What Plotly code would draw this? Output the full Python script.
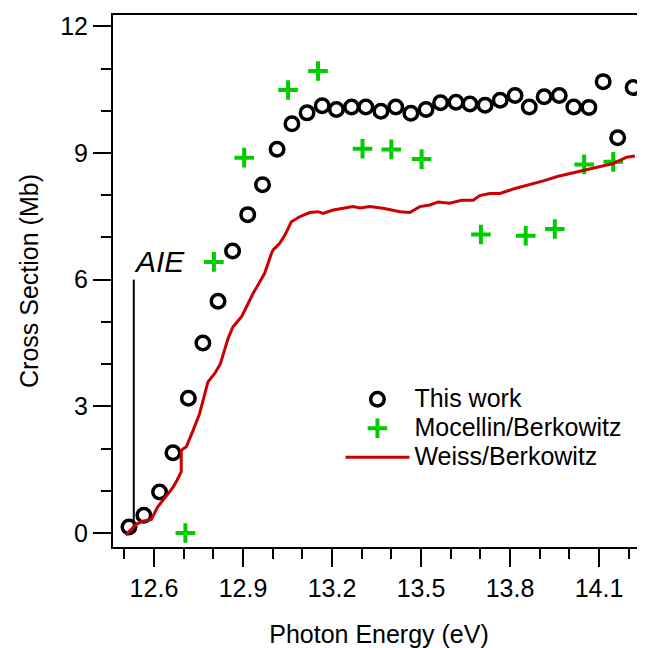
import plotly.graph_objects as go

# ---- data ----
this_work_energy = [12.516, 12.566, 12.619, 12.664, 12.716, 12.765, 12.816, 12.865, 12.916, 12.966,
                    13.015, 13.065, 13.116, 13.167, 13.215, 13.266, 13.314, 13.365, 13.415, 13.466,
                    13.517, 13.566, 13.618, 13.665, 13.716, 13.767, 13.817, 13.865, 13.915, 13.966,
                    14.015, 14.066, 14.114, 14.163, 14.215]
this_work_xs = [0.14, 0.42, 0.97, 1.90, 3.19, 4.50, 5.49, 6.68, 7.54, 8.25,
                9.09, 9.69, 9.95, 10.12, 10.03, 10.09, 10.09, 9.99, 10.09, 9.94,
                10.03, 10.19, 10.20, 10.16, 10.13, 10.25, 10.36, 10.09, 10.33, 10.36,
                10.09, 10.08, 10.69, 9.36, 10.55]

mocellin_energy = [12.706, 12.802, 12.904, 13.052, 13.153, 13.303, 13.400, 13.502,
                   13.702, 13.853, 13.951, 14.050, 14.148]
mocellin_xs = [0.0, 6.42, 8.89, 10.49, 10.94, 9.10, 9.085, 8.855,
               7.07, 7.04, 7.20, 8.73, 8.79]

weiss_energy = [12.505, 12.541, 12.563, 12.591, 12.613, 12.642, 12.664, 12.678, 12.692, 12.692,
                12.709, 12.732, 12.754, 12.782, 12.805, 12.824, 12.850, 12.866, 12.895, 12.934,
                12.973, 12.996, 13.001, 13.024, 13.041, 13.052, 13.063, 13.091, 13.125, 13.153,
                13.170, 13.204, 13.271, 13.294, 13.327, 13.372, 13.418, 13.429, 13.462, 13.496,
                13.530, 13.558, 13.597, 13.637, 13.676, 13.698, 13.732, 13.766, 13.817, 13.861,
                13.912, 13.963, 14.013, 14.058, 14.103, 14.148, 14.193, 14.221]
weiss_xs = [-0.05, 0.21, 0.28, 0.32, 0.62, 0.89, 1.08, 1.25, 1.45, 1.96,
            2.04, 2.43, 2.83, 3.58, 3.78, 4.01, 4.61, 4.88, 5.12, 5.67,
            6.15, 6.62, 6.70, 6.86, 7.05, 7.21, 7.37, 7.49, 7.59, 7.61,
            7.57, 7.65, 7.73, 7.70, 7.73, 7.69, 7.63, 7.61, 7.59, 7.73,
            7.77, 7.84, 7.81, 7.88, 7.88, 7.99, 8.04, 8.04, 8.16, 8.24,
            8.34, 8.45, 8.53, 8.61, 8.69, 8.75, 8.90, 8.93]

aie_energy = 12.532
aie_top = 6.0

x_range = [12.462, 14.255]
y_range = [-0.332, 12.268]

FONT = "Liberation Sans, Arial, Helvetica, sans-serif"


def big(name):
    return '<span style="font-size:25px">' + name + '</span>'


fig = go.Figure()
fig.add_trace(go.Scatter(
    x=this_work_energy, y=this_work_xs, mode="markers", name=big("This work"),
    marker=dict(symbol="circle-open", size=13.5, color="black", line=dict(width=3.5, color="black")),
    cliponaxis=False,
))
fig.add_trace(go.Scatter(
    x=mocellin_energy, y=mocellin_xs, mode="markers", name=big("Mocellin/Berkowitz"),
    marker=dict(symbol="cross-thin", size=14, color="#00cc00", line=dict(width=4, color="#00cc00")),
    cliponaxis=False,
))
fig.add_trace(go.Scatter(
    x=weiss_energy, y=weiss_xs, mode="lines", name=big("Weiss/Berkowitz"),
    line=dict(color="#cc0000", width=3),
))

fig.add_shape(type="line", xref="x", yref="y", x0=aie_energy, x1=aie_energy, y0=0, y1=aie_top,
              line=dict(color="black", width=2), layer="below")
fig.add_annotation(x=aie_energy, y=aie_top, xref="x", yref="y", text="<i>AIE</i>",
                   showarrow=False, xanchor="left", yanchor="bottom", xshift=-2,
                   font=dict(family=FONT, size=30, color="black"))

# the page body has an 8px default margin; the figure is sized/offset to compensate
fig.update_layout(
    width=637, height=640,
    margin=dict(l=105.3, r=0, t=7, b=101.3),
    paper_bgcolor="white", plot_bgcolor="white",
    font=dict(family=FONT, size=25, color="black"),
    showlegend=True,
    legend=dict(x=0.4275, y=0.3145, xanchor="left", yanchor="top",
                bgcolor="rgba(0,0,0,0)", font=dict(family=FONT, size=20),
                itemwidth=64, tracegroupgap=0),
)
fig.update_xaxes(
    range=x_range, tickmode="linear", tick0=12.6, dtick=0.3, tickformat=".1f",
    ticks="outside", ticklen=18, tickwidth=2, tickcolor="black",
    minor=dict(ticks="outside", ticklen=10, tickwidth=2, tickcolor="black", dtick=0.1, tick0=12.6),
    showline=True, linewidth=2, linecolor="black", mirror=True,
    showgrid=False, zeroline=False,
    title=dict(text="Photon Energy (eV)", font=dict(size=25), standoff=24),
)
fig.update_yaxes(
    range=y_range, tickmode="linear", tick0=0, dtick=3,
    ticks="outside", ticklen=18, tickwidth=2, tickcolor="black",
    minor=dict(ticks="outside", ticklen=10, tickwidth=2, tickcolor="black", dtick=1, tick0=0),
    showline=True, linewidth=2, linecolor="black", mirror=False,
    showgrid=False, zeroline=False,
    title=dict(text="Cross Section (Mb)", font=dict(size=25), standoff=14),
)

fig.write_html("out.html")
